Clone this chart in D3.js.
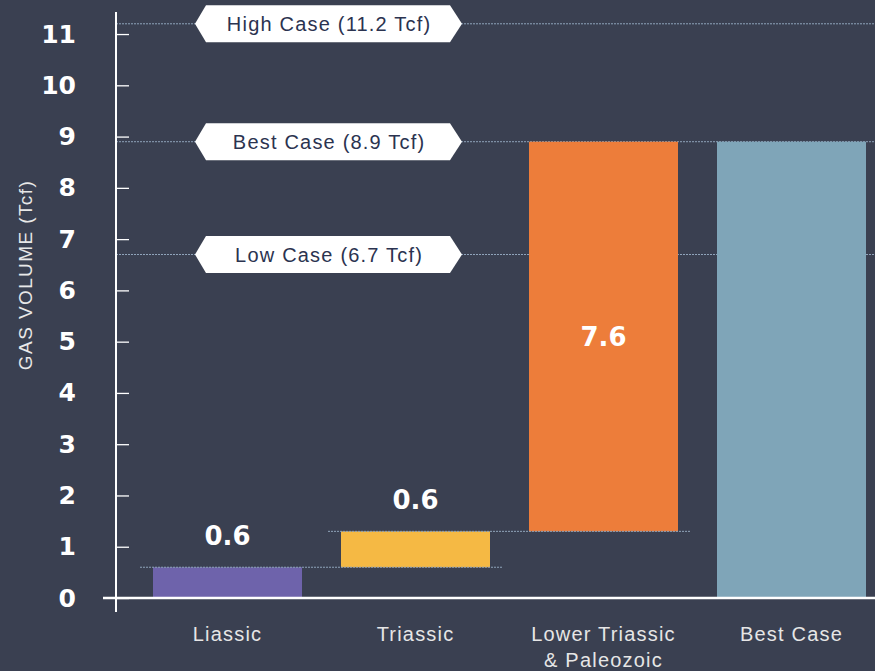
<!DOCTYPE html>
<html>
<head>
<meta charset="utf-8">
<script src="https://cdn.jsdelivr.net/npm/d3@7"></script>
<style>
  body { margin: 0; background: #3a4051; }
  svg { display: block; }
</style>
</head>
<body>
<div id="chart"></div>
<script>
// data
var categories = ["Liassic", "Triassic", "Lower Triassic|& Paleozoic", "Best Case"];
var barStart = [0, 0.6, 1.3, 0];
var barEnd = [0.6, 1.3, 8.9, 8.9];
var valueLabels = ["0.6", "0.6", "7.6", ""];
var barColors = ["#6e63ab", "#f5b944", "#ed7d3a", "#7fa5b8"];
var caseNames = ["High Case (11.2 Tcf)", "Best Case (8.9 Tcf)", "Low Case (6.7 Tcf)"];
var caseValues = [11.2, 8.9, 6.7];
var yTicks = [0, 1, 2, 3, 4, 5, 6, 7, 8, 9, 10, 11];

var width = 875, height = 671,
    axisX = 116;

var svg = d3.select("#chart")
    .append("svg")
    .attr("width", width)
    .attr("height", height);

svg.append("rect")
    .attr("width", width)
    .attr("height", height)
    .attr("fill", "#3a4051");

var y = d3.scaleLinear()
    .domain([0, 11.43])
    .range([598, 12]);

var x = d3.scaleBand()
    .domain(categories)
    .range([133.5, 885.5])
    .paddingInner(39 / 188)
    .paddingOuter(39 / 376);

var dotted = "#8fa3ba";

// case reference lines
svg.selectAll(".caseline")
    .data(caseValues)
    .enter().append("line")
    .attr("x1", axisX)
    .attr("x2", width)
    .attr("y1", function(d) { return y(d); })
    .attr("y2", function(d) { return y(d); })
    .attr("stroke", dotted)
    .attr("stroke-width", 1)
    .attr("stroke-dasharray", "2,1");

// bars
svg.selectAll(".bar")
    .data(categories)
    .enter().append("rect")
    .attr("x", function(d) { return x(d); })
    .attr("width", x.bandwidth())
    .attr("y", function(d, i) { return y(barEnd[i]); })
    .attr("height", function(d, i) { return y(barStart[i]) - y(barEnd[i]); })
    .attr("fill", function(d, i) { return barColors[i]; });

// step connectors between bars
for (var i = 0; i < 2; i++) {
    svg.append("line")
        .attr("x1", x(categories[i]) - 13)
        .attr("x2", x(categories[i + 1]) + x.bandwidth() + 12)
        .attr("y1", y(barEnd[i]))
        .attr("y2", y(barEnd[i]))
        .attr("stroke", dotted)
        .attr("stroke-width", 1)
        .attr("stroke-dasharray", "2,1");
}

// value labels
svg.selectAll(".val")
    .data(categories)
    .enter().append("text")
    .attr("x", function(d) { return x(d) + x.bandwidth() / 2; })
    .attr("y", function(d, i) {
        if (i == 2) return (y(barStart[i]) + y(barEnd[i])) / 2 + 9;
        return y(barEnd[i]) - 22;
    })
    .attr("text-anchor", "middle")
    .attr("fill", "#ffffff")
    .style("font-family", "DejaVu Sans")
    .style("font-weight", "bold")
    .style("font-size", "26px")
    .text(function(d, i) { return valueLabels[i]; });

// case label boxes
var boxL = 195, boxR = 462, boxH = 37;
caseValues.forEach(function(v, i) {
    var cy = y(v), t = cy - boxH / 2, b = cy + boxH / 2;
    svg.append("path")
        .attr("d", "M" + boxL + "," + cy + "L" + (boxL + 11) + "," + t + "L" + (boxR - 12) + "," + t +
            "L" + boxR + "," + cy + "L" + (boxR - 12) + "," + b + "L" + (boxL + 11) + "," + b + "Z")
        .attr("fill", "#ffffff");
    svg.append("text")
        .attr("x", (boxL + boxR) / 2 + 0.6)
        .attr("y", cy + 7)
        .attr("text-anchor", "middle")
        .attr("fill", "#2b3350")
        .style("font-family", "Liberation Sans")
        .style("font-size", "20px")
        .style("letter-spacing", "1.2px")
        .text(caseNames[i]);
});

// y axis
var yAxis = svg.append("g")
    .attr("transform", "translate(" + axisX + ",0)")
    .call(d3.axisLeft(y).tickValues(yTicks).tickSize(-13).tickPadding(40).tickFormat(d3.format("d")));
yAxis.select(".domain").remove();
yAxis.selectAll(".tick line").attr("stroke", "#ffffff").attr("stroke-width", 1.3);
yAxis.selectAll(".tick text")
    .attr("fill", "#ffffff")
    .style("font-family", "DejaVu Sans")
    .style("font-weight", "bold")
    .style("font-size", "25px");

svg.append("line")
    .attr("x1", axisX).attr("x2", axisX)
    .attr("y1", 12).attr("y2", 612)
    .attr("stroke", "#ffffff")
    .attr("stroke-width", 2);

svg.append("line")
    .attr("x1", 103).attr("x2", width)
    .attr("y1", y(0)).attr("y2", y(0))
    .attr("stroke", "#ffffff")
    .attr("stroke-width", 2.5);

// y axis title
svg.append("text")
    .attr("transform", "translate(32,275) rotate(-90)")
    .attr("text-anchor", "middle")
    .attr("fill", "#e8e8e8")
    .style("font-family", "Liberation Sans")
    .style("font-size", "19px")
    .style("letter-spacing", "1.4px")
    .text("GAS VOLUME (Tcf)");

// category labels
svg.selectAll(".cat")
    .data(categories)
    .enter().append("text")
    .attr("x", function(d) { return x(d) + x.bandwidth() / 2; })
    .attr("y", 641)
    .attr("text-anchor", "middle")
    .attr("fill", "#e6e6e6")
    .style("font-family", "Liberation Sans")
    .style("font-size", "20px")
    .style("letter-spacing", "1.2px")
    .each(function(d) {
        var lines = d.split("|");
        var el = d3.select(this);
        lines.forEach(function(l, j) {
            el.append("tspan")
                .attr("x", x(d) + x.bandwidth() / 2)
                .attr("dy", j == 0 ? 0 : 26)
                .text(l);
        });
    });
</script>
</body>
</html>
